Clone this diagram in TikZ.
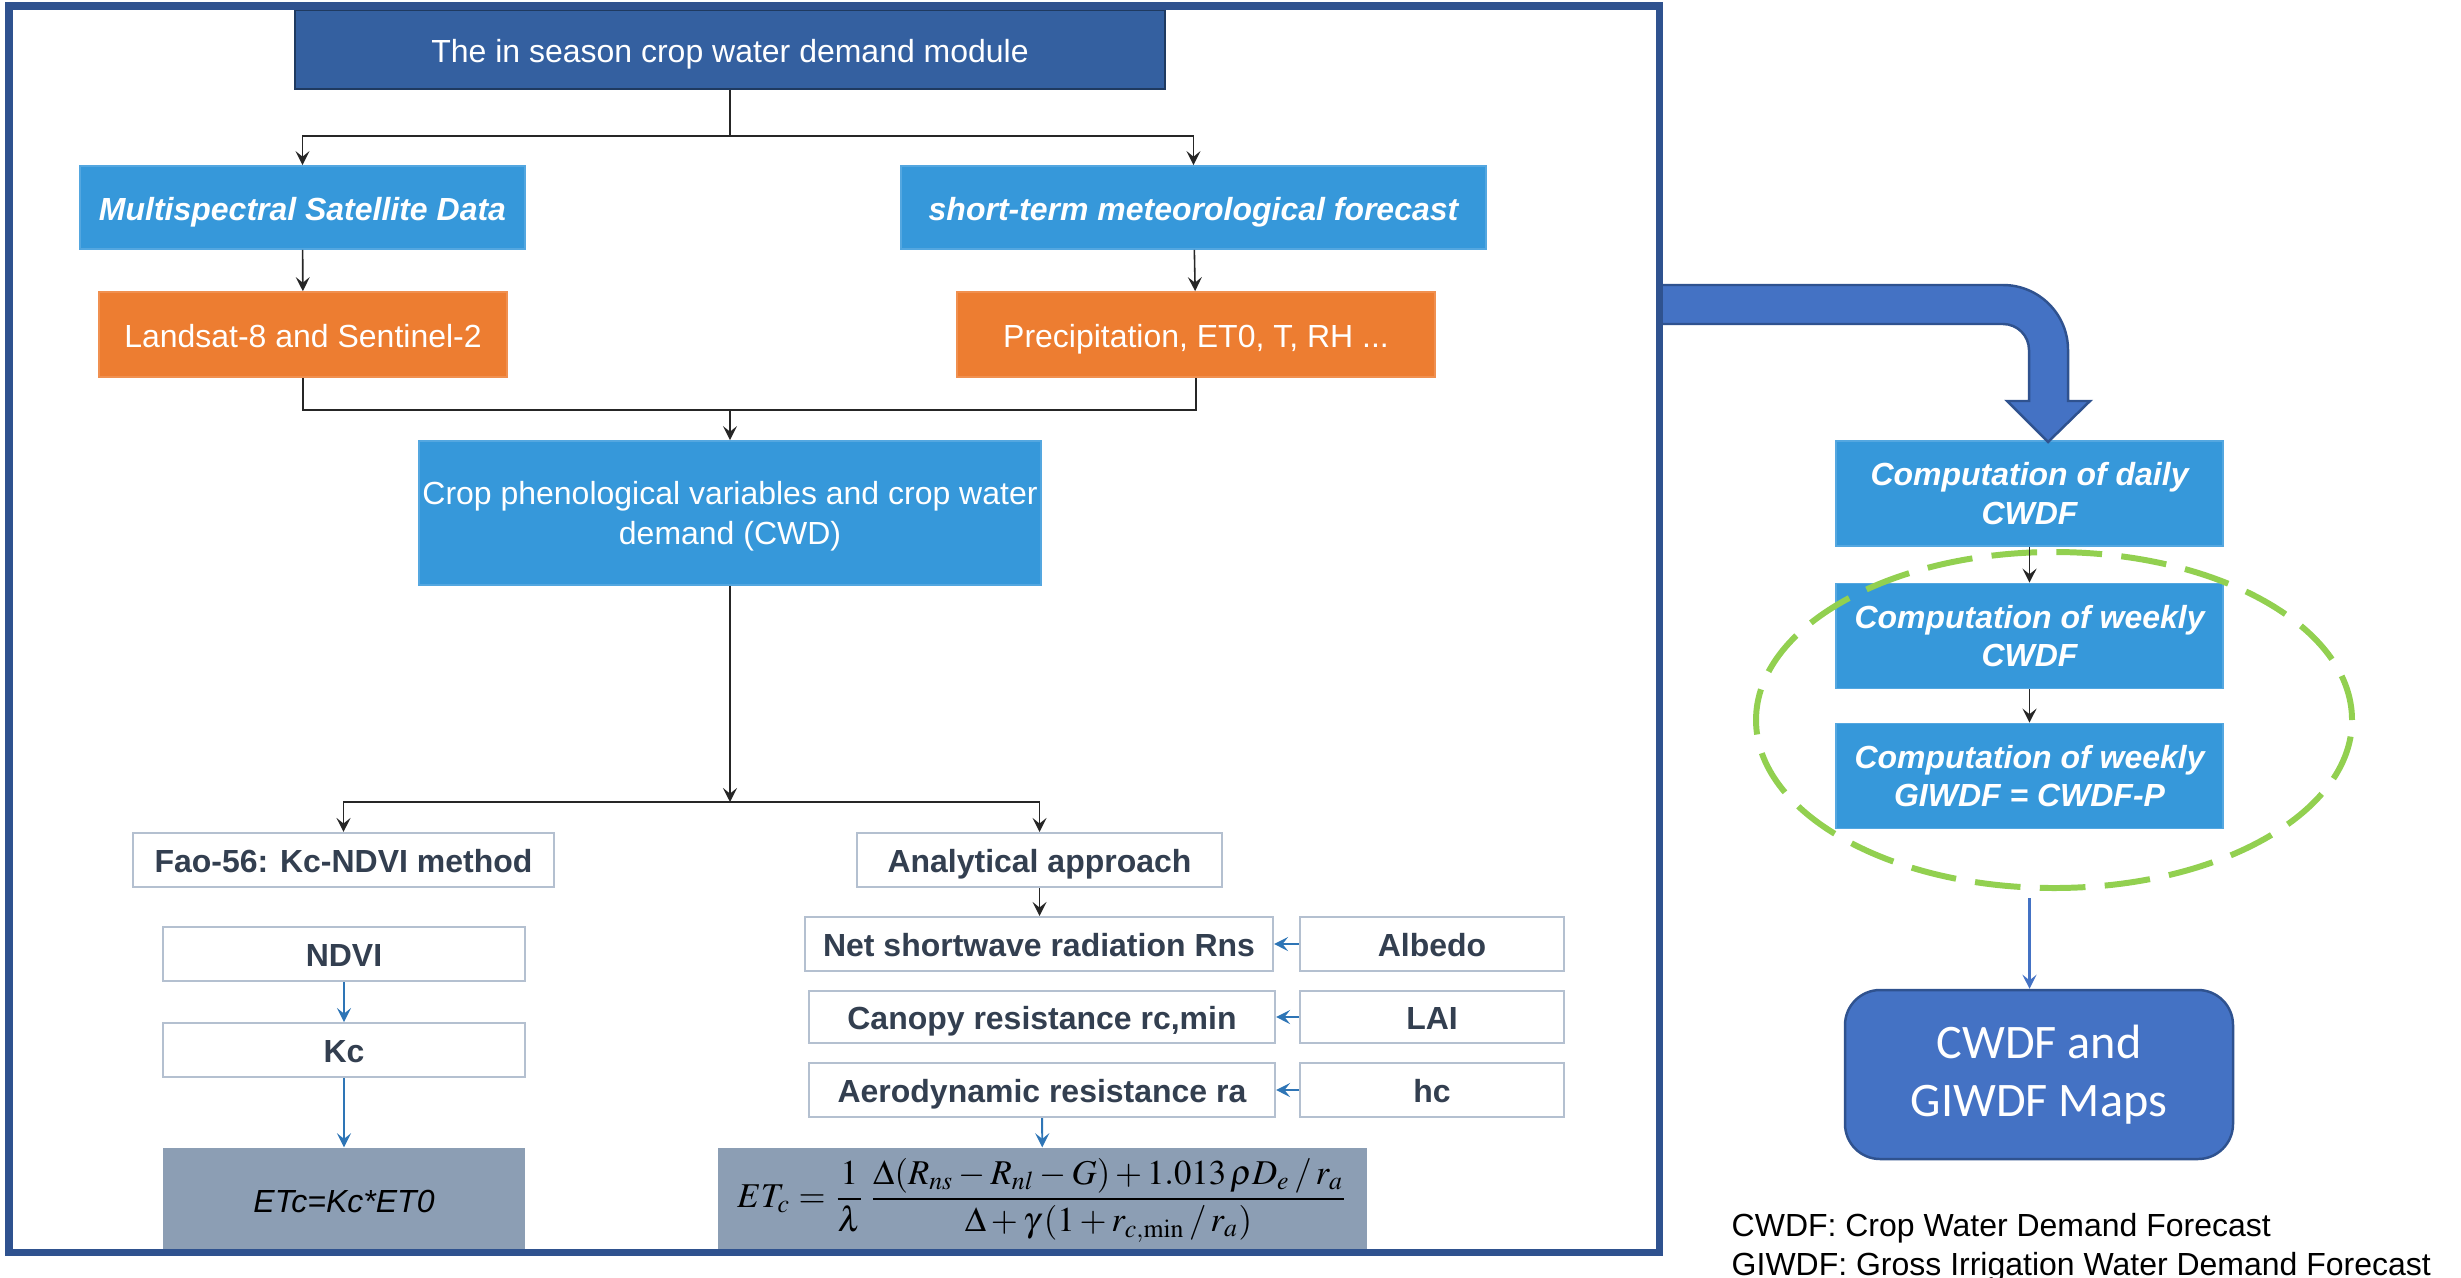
\documentclass[tikz,border=0pt]{standalone}
\usepackage{mathptmx}
\usepackage[no-math]{fontspec}
\setmainfont{Liberation Sans}
\newfontfamily\calibrifont{Carlito}
\usetikzlibrary{arrows.meta,calc,positioning,shapes.geometric}

\definecolor{framecol}{RGB}{47,82,143}
\definecolor{titlecol}{RGB}{52,96,160}
\definecolor{skycol}{RGB}{54,152,218}
\definecolor{orangecol}{RGB}{237,125,49}
\definecolor{slatecol}{RGB}{140,158,180}
\definecolor{edgecol}{RGB}{180,192,208}
\definecolor{inkcol}{RGB}{51,63,80}
\definecolor{arrowblue}{RGB}{46,117,182}
\definecolor{mapblue}{RGB}{68,114,196}
\definecolor{limecol}{RGB}{146,208,80}

\begin{document}
\begin{tikzpicture}
[x=0.1mm, y=-0.1mm, >={Stealth[length=4pt,width=4pt,inset=1.6pt]},
every node/.style={font=\fontsize{9.1}{11}\selectfont, inner sep=0pt}]
% Define styles for blocks and connectors
\tikzstyle{oneline} = [text height=0.72em, text depth=0pt]
\tikzstyle{topblock} = [rectangle, fill=titlecol, draw=titlecol!60!black, line width=0.5pt, text=white, oneline]
\tikzstyle{skyblock} = [rectangle, fill=skycol, draw=skycol!85!white, line width=0.5pt, text=white, font=\fontsize{9.1}{11}\selectfont\bfseries\itshape, align=center]
\tikzstyle{orangeblock} = [rectangle, fill=orangecol, draw=orangecol!85!white, line width=0.5pt, text=white, oneline]
\tikzstyle{whiteblock} = [rectangle, fill=white, draw=edgecol, line width=0.6pt, text=inkcol, font=\fontsize{9.1}{11}\selectfont\bfseries, minimum height=5.4mm, oneline]
\tikzstyle{slateblock} = [rectangle, fill=slatecol, text=black]
\tikzstyle{line} = [draw=black!85, line width=0.45pt]
\tikzstyle{blueline} = [draw=arrowblue, line width=0.55pt]

\useasboundingbox (0,0) rectangle (2461,1277);

% Nodes placement
\node [topblock, minimum width=87mm, minimum height=7.9mm] (module) at (730,49.5) {The in season crop water demand module};
\node [skyblock, oneline, minimum width=44.5mm, minimum height=8.3mm] (satellite) at (302.5,207.5) {Multispectral Satellite Data};
\node [skyblock, oneline, minimum width=58.5mm, minimum height=8.3mm] (meteo) at (1193.5,207.5) {short-term meteorological forecast};
\node [orangeblock, minimum width=40.8mm, minimum height=8.5mm] (landsat) at (303,334.5) {Landsat-8 and Sentinel-2};
\node [orangeblock, minimum width=47.8mm, minimum height=8.5mm] (precip) at (1196,334.5) {Precipitation, ET0, T, RH ...};
\node [skyblock, font=\fontsize{9.1}{11.5}\selectfont, text depth=0pt, minimum width=62.2mm, minimum height=14.4mm] (cwd) at (730,513) {Crop phenological variables and crop water\\demand (CWD)};

\node [whiteblock, minimum width=42.1mm] (fao) at (343.5,860) {Fao-56: Kc-NDVI method};
\node [whiteblock, minimum width=36.5mm] (analytic) at (1039.5,860) {Analytical approach};
\node [whiteblock, minimum width=36.2mm] (ndvi) at (344,954) {NDVI};
\node [whiteblock, minimum width=36.2mm, below=4mm of ndvi] (kc) {Kc};
\node [slateblock, oneline, minimum width=36.2mm, minimum height=10.4mm, font=\fontsize{9.1}{11}\selectfont\itshape] (etc) at (344,1200) {ETc=Kc*ET0};

\node [whiteblock, minimum width=46.8mm] (rns) at (1039,944) {Net shortwave radiation Rns};
\node [whiteblock, minimum width=46.6mm, minimum height=5.2mm] (canopy) at (1042,1017) {Canopy resistance rc,min};
\node [whiteblock, minimum width=46.6mm] (aero) at (1042,1090) {Aerodynamic resistance ra};
\node [whiteblock, minimum width=26.4mm] (albedo) at (1432,944) {Albedo};
\node [whiteblock, minimum width=26.4mm, minimum height=5.2mm] (lai) at (1432,1017) {LAI};
\node [whiteblock, minimum width=26.4mm] (hc) at (1432,1090) {hc};
\node [slateblock, minimum width=64.9mm, minimum height=10.4mm] (formula) at (1042.5,1200) {\fontsize{9.9}{12}\selectfont$\displaystyle ET_c=\frac{1}{\lambda}\,\frac{\Delta(R_{ns}-R_{nl}-G)+1.013\,\rho D_e\,/\,r_a}{\Delta+\gamma\left(1+r_{c,\min}\,/\,r_a\right)}$};

\node [skyblock, minimum width=38.7mm, minimum height=10.5mm] (daily) at (2029.5,493.5) {Computation of daily\\CWDF};
\node [skyblock, minimum width=38.7mm, minimum height=10.5mm] (weekly) at (2029.5,636) {Computation of weekly\\CWDF};
\node [skyblock, minimum width=38.7mm, minimum height=10.5mm] (giwdf) at (2029.5,776) {Computation of weekly\\GIWDF = CWDF-P};
\node [ellipse, draw=limecol, line width=1.7pt, dash pattern=on 13pt off 5.5pt, minimum width=59.6mm, minimum height=33.6mm] (weekgroup) at (2054,720) {};
\node [rectangle, rounded corners=3.5mm, fill=mapblue, draw=framecol, line width=0.7pt, text=white, align=center, font=\calibrifont\fontsize{13.7}{16.5}\selectfont, minimum width=38.8mm, minimum height=16.9mm] (maps) at (2039,1074.5) {CWDF and\\GIWDF Maps};

\node [anchor=base west] (legendA) at (1731,1236) {CWDF: Crop Water Demand Forecast};
\node [anchor=base west] (legendB) at (1731,1275) {GIWDF: Gross Irrigation Water Demand Forecast};

\coordinate (split1) at (730,136);
\coordinate (merge1) at (730,410);
\coordinate (split2) at (730,802);

% Draw edges
\draw[line] (module.south) -- (split1);
\draw[line,->] (split1) -| (satellite.north);
\draw[line,->] (split1) -| (meteo.north);
\draw[line,->] (satellite) -- (landsat);
\draw[line,->] (meteo) -- (precip);
\draw[line] (landsat.south) |- (merge1) -| (precip.south);
\draw[line,->] (merge1) -- (cwd.north);
\draw[line,->] (cwd.south) -- (split2);
\draw[line,->] (split2) -| (fao.north);
\draw[line,->] (split2) -| (analytic.north);
\draw[line,->] (analytic.south) -- (rns.north -| analytic.south);

\draw[blueline,->] (ndvi) -- (kc);
\draw[blueline,->] (kc) -- (etc);
\draw[blueline,->] (albedo) -- (rns);
\draw[blueline,->] (lai) -- (canopy);
\draw[blueline,->] (hc) -- (aero);
\draw[blueline,->] (aero) -- (formula);

\draw[line,->] (daily) -- (weekly);
\draw[line,->] (weekly) -- (giwdf);
\draw[draw=mapblue, line width=0.6pt, ->, shorten <=2pt] (weekgroup.south -| daily.south) -- (maps.north -| daily.south);

% Bent arrow out of the module frame
\draw[fill=mapblue, draw=framecol, line width=0.7pt] (1659,285) -- (2003,285) arc[start angle=-90, end angle=0, radius=65] -- (2068,401) -- (2090,401) -- (2048,442) -- (2007,401) -- (2029,401) -- (2029,350) arc[start angle=0, end angle=-90, radius=26] -- (1659,324) -- cycle;

% Module frame
\draw[framecol, line width=2pt] (9,6) rectangle (1659,1252);
\end{tikzpicture}
\end{document}
